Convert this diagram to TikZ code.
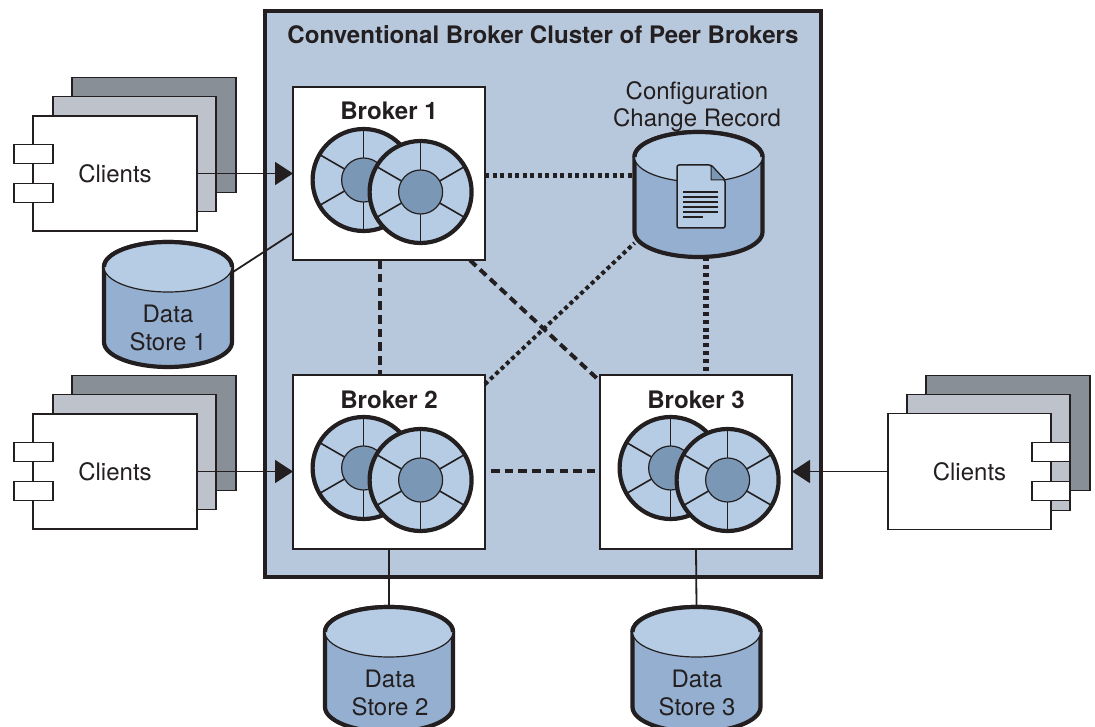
\documentclass[tikz,border=0pt]{standalone}
\usepackage{fontspec}
\setmainfont{TeX Gyre Heros}
\usetikzlibrary{arrows.meta}
\definecolor{ink}{HTML}{231F20}
\definecolor{clusterbg}{HTML}{B8C8DC}
\definecolor{cyltop}{HTML}{B5CCE4}
\definecolor{cylside}{HTML}{94AFCF}
\definecolor{hub}{HTML}{7A98B6}
\definecolor{backcard}{HTML}{898F96}
\definecolor{midcard}{HTML}{BEC2CB}
\tikzset{
  every node/.style={inner sep=0pt,outer sep=0pt,text=ink},
  lbl/.style={font=\fontsize{24}{27.5}\selectfont,align=center},
  blbl/.style={font=\fontsize{24.1}{27.5}\selectfont\bfseries,align=center},
  card/.style={draw=ink,line width=1.8pt,fill=#1},
  brokerbox/.style={draw=ink,line width=1.8pt,fill=white,minimum width=192pt,minimum height=173.5pt},
  link/.style={draw=ink,line width=1.8pt},
  dotline/.style={draw=ink,line width=5pt,dash pattern=on 4pt off 3.5pt},
  dashline/.style={draw=ink,line width=4pt,dash pattern=on 8.5pt off 5.2pt},
  flow/.style={draw=ink,line width=1.9pt,-{Triangle[length=18pt,width=23pt,color=ink]}},
}
\newcommand{\clientsL}[3]{%
  \begin{scope}[shift={(#1,#2)}]
    \draw[card=backcard] (-43,-96) rectangle (121,19);
    \draw[card=midcard] (-62,-77) rectangle (101,38);
    \node[card=white,minimum width=164pt,minimum height=115pt,lbl] (#3) at (0,0) {Clients};
    \draw[card=white] (-101,-29) rectangle (-62,-10);
    \draw[card=white] (-101,10) rectangle (-62,29);
  \end{scope}}
\newcommand{\clientsR}[3]{%
  \begin{scope}[shift={(#1,#2)}]
    \draw[card=backcard] (-43.5,-96) rectangle (120.5,19);
    \draw[card=midcard] (-62.5,-77) rectangle (100.5,39);
    \node[card=white,minimum width=163pt,minimum height=116pt,lbl] (#3) at (0,0) {Clients};
    \draw[card=white] (62.5,-29) rectangle (100.5,-10);
    \draw[card=white] (62.5,10) rectangle (100.5,29);
  \end{scope}}
\newcommand{\wheel}[2]{%
  \begin{scope}[shift={(#1,#2)}]
    \fill[cyltop] (0,0) circle[radius=51pt];
    \foreach \a in {30,90,150,210,270,330}
      \draw[ink,line width=1.6pt] (0,0) -- (\a:51pt);
    \draw[ink,line width=1.2pt,fill=hub] (0,0) circle[radius=22pt];
    \draw[ink,line width=4.2pt] (0,0) circle[radius=51pt];
  \end{scope}}
\newcommand{\wheels}[2]{\wheel{#1+70.6}{#2+93}\wheel{#1+127.6}{#2+105}}
\newcommand{\cyl}[3]{%
  \begin{scope}[shift={(#1,#2)}]
    \draw[ink,line width=4.2pt,fill=cylside,line join=round]
      (-64,0) -- (-64,75) arc[start angle=180,end angle=360,x radius=64pt,y radius=25pt]
      -- (64,0) arc[start angle=0,end angle=180,x radius=64pt,y radius=25pt] -- cycle;
    \fill[cyltop] (-64,0) arc[start angle=180,end angle=360,x radius=64pt,y radius=25pt]
      arc[start angle=0,end angle=180,x radius=64pt,y radius=25pt] -- cycle;
    \draw[ink,line width=1.2pt] (-64,0) arc[start angle=180,end angle=360,x radius=64pt,y radius=25pt];
    \draw[ink,line width=4.2pt] (-64,0) arc[start angle=180,end angle=0,x radius=64pt,y radius=25pt];
    \node[minimum width=130pt,minimum height=126pt] (#3) at (0,37.5) {};
  \end{scope}}
\begin{document}
\begin{tikzpicture}[x=1pt,y=-1pt]
\useasboundingbox (0,0) rectangle (1095,727);
\clip (0,0) rectangle (1095,727);
% cluster
\node[draw=ink,line width=4pt,fill=clusterbg,minimum width=556pt,minimum height=566pt] (cluster) at (542.5,294) {};
\node[blbl] (title) at (543,35) {Conventional Broker Cluster of Peer Brokers};
% clients
\clientsL{115}{173.5}{c1}
\clientsL{115}{471.5}{c2}
\clientsR{969.5}{471.5}{c3}
% brokers
\node[brokerbox] (b1) at (389,173.5) {};
\node[brokerbox] (b2) at (389,462) {};
\node[brokerbox] (b3) at (696,462) {};
\node[blbl] (b1t) at (389,111) {Broker 1};
\node[blbl] (b2t) at (389,400) {Broker 2};
\node[blbl] (b3t) at (696,400) {Broker 3};
\wheels{293}{87}
\wheels{293}{375}
\wheels{600}{375}
% stores
\cyl{168}{267}{ds1}
\cyl{389}{632}{ds2}
\cyl{696.5}{632}{ds3}
\cyl{698.5}{157}{cfg}
\node[lbl] (ds1t) at (168,328) {Data\\Store 1};
\node[lbl] (ds2t) at (390,693) {Data\\Store 2};
\node[lbl] (ds3t) at (697,693) {Data\\Store 3};
\node[lbl] (cfgt) at (697,106.5) {Configuration\\Change Record};
% document
\draw[ink,line width=1.5pt,fill=cyltop,rounded corners=2pt] (677,165) -- (711,165) -- (725,180) -- (725,228) -- (677,228) -- cycle;
\draw[ink,line width=1pt,fill=hub,line join=round] (711,165) -- (725,180) -- (711,180) -- cycle;
\foreach \yy in {192,197,202,207,212} \draw[ink,line width=1.6pt] (683,\yy) -- (718,\yy);
\draw[ink,line width=1.6pt] (683,217) -- (703,217);
% connectors
\draw[flow] (c1.east) -- (b1.west);
\draw[flow] (c2.east) -- ([yshift=-9.5pt]b2.west);
\draw[flow] (c3.west) -- ([yshift=-9.5pt]b3.east);
\draw[link] ([yshift=-59.5pt]b1.west) -- ([yshift=32.5pt]ds1.east);
\draw[link] (b2.south) -- (ds2.north);
\draw[link] (b3.south) -- (ds3.north);
\draw[dotline] ([yshift=-2.5pt]b1.east) -- ([yshift=18.5pt]cfg.west);
\draw[dashline] ([xshift=-9pt]b1.south) -- ([xshift=-9pt]b2.north);
\draw[draw=ink,line width=6pt,dash pattern=on 4pt off 3.8pt] ([xshift=7.5pt]cfg.south) -- ([xshift=10pt]b3.north);
\draw[dashline] ([xshift=81pt]b1.south) -- ([yshift=-6pt]b3.north west);
\draw[dashline,dash phase=7.7pt] ([yshift=-9pt]b2.east) -- ([yshift=-9pt]b3.west);
\draw[draw=ink,line width=4pt,dash pattern=on 4pt off 3.3pt] ([yshift=-9pt]b2.north east) -- ([xshift=1pt,yshift=14.5pt]cfg.south west);
\end{tikzpicture}
\end{document}
